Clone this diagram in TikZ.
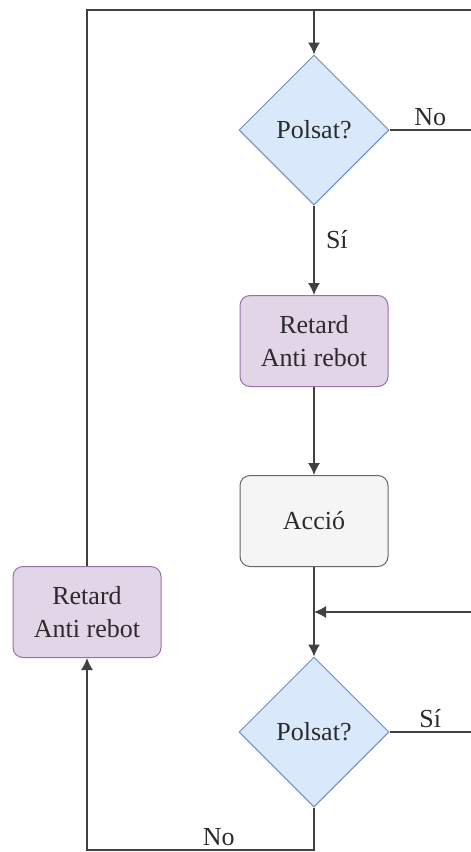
\documentclass[tikz,border=0pt]{standalone}
\usepackage{fontspec}
\setmainfont{Liberation Serif}
\usetikzlibrary{shapes.geometric,arrows.meta}

\definecolor{askfill}{HTML}{DAE8FC}
\definecolor{askline}{HTML}{6C8EBF}
\definecolor{waitfill}{HTML}{E1D5E7}
\definecolor{waitline}{HTML}{9673A6}
\definecolor{dofill}{HTML}{F5F5F5}
\definecolor{doline}{HTML}{666666}
\definecolor{ink}{HTML}{2B2B2B}

\begin{document}
\begin{tikzpicture}[x=1pt,y=1pt,font=\fontsize{26}{33}\selectfont,text=ink,
    line/.style={draw=ink!90,line width=1.4pt},
    arrow/.style={line,-{Latex[length=12pt,width=12pt]}},
    ask/.style={diamond,draw=askline,fill=askfill,line width=1pt,
        minimum width=150pt,minimum height=150pt,inner sep=0pt},
    box/.style={rectangle,rounded corners=10pt,line width=1pt,
        minimum width=148pt,minimum height=91pt,align=center},
    wait/.style={box,draw=waitline,fill=waitfill},
    action/.style={box,draw=doline,fill=dofill}]
    \useasboundingbox (0,0) rectangle (471,-852);

    % blocs
    \node[ask] (ask1) at (314,-130) {Polsat?};
    \node[wait] (wait1) at (314,-341) {Retard\\Anti rebot};
    \node[action] (act) at (314,-521) {Acció};
    \node[ask] (ask2) at (314,-732) {Polsat?};
    \node[wait] (wait2) at (87,-612) {Retard\\Anti rebot};

    % punts de retorn
    \coordinate (top) at (471,-10);
    \coordinate (out1) at (471,-130);
    \coordinate (in2) at (471,-612);
    \coordinate (out2) at (471,-732);
    \coordinate (bottom) at (314,-850);

    % connexions
    \draw[line] (wait2.north) |- (top);
    \draw[arrow] (ask1.north |- top) -- (ask1.north);
    \draw[line] (ask1.east) -- node[above]{No} (out1);
    \draw[arrow] (ask1.south) -- node[right,pos=0.38,xshift=8pt]{Sí} (wait1.north);
    \draw[arrow] (wait1.south) -- (act.north);
    \draw[arrow] (act.south) -- (ask2.north);
    \draw[arrow] (in2) -- (act.south |- in2);
    \draw[line] (ask2.east) -- node[above]{Sí} (out2);
    \draw[arrow] (ask2.south) -- (bottom) -| node[above,pos=0.21]{No} (wait2.south);
\end{tikzpicture}
\end{document}
